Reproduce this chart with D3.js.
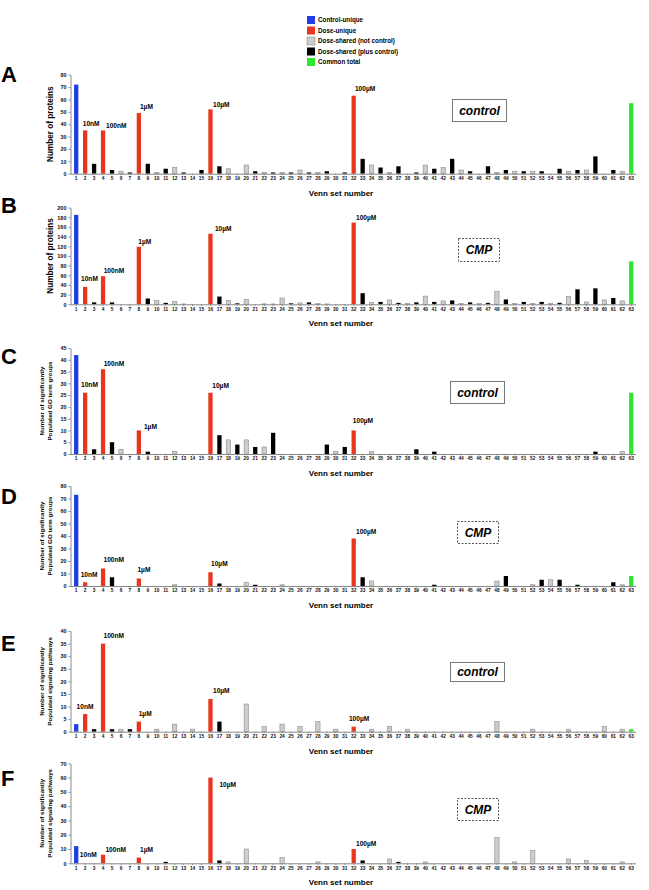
<!DOCTYPE html>
<html><head><meta charset="utf-8">
<script src="https://cdn.jsdelivr.net/npm/d3@7"></script>
<style>body{margin:0;background:#fff} svg{display:block} text{font-family:"Liberation Sans",Arial,sans-serif}</style>
</head><body><svg id="c" width="649" height="890"></svg>
<script>
// ---------------- DATA ----------------
const sets = d3.range(1, 64); // Venn set numbers 1..63
const proteinsControl = [72,35,8,35,3,2,1,49,8,1, 4,5,1,0,3,52,6,4,0,7, 2,1,1,1,1,3,1,1,2,0, 1,63,12,7,5,1,6,0,1,7, 4,5,12,3,2,0,6,1,3,2, 2,2,2,0,4,2,3,3,14,0, 3,2,57];
const proteinsCMP = [185,36,4,58,4,0,0,119,12,8, 3,6,1,0,0,146,16,8,2,10, 0,1,1,13,2,3,4,2,1,0, 0,169,23,4,5,9,3,2,4,17, 5,7,8,2,4,2,3,27,10,2, 5,2,5,2,3,16,31,5,33,9, 13,7,89];
const goControl = [42,26,2,36,5,2,0,10,1,0, 0,1,0,0,0,26,8,6,4,6, 3,3,9,0,0,0,0,0,4,1, 3,10,0,1,0,0,0,0,2,0, 1,0,0,0,0,0,0,0,0,0, 0,0,0,0,0,0,0,0,1,0, 0,1,26];
const goCMP = [73,3,0,14,7,0,0,6,0,0, 0,1,0,0,0,11,2,0,0,3, 1,0,0,1,0,0,0,0,0,0, 0,38,7,4,0,0,0,0,0,0, 1,0,0,0,0,0,0,4,8,0, 0,1,5,5,5,0,1,0,0,0, 3,1,8];
const pathControl = [3,7,1,35,1,1,1,4,0,1, 0,3,0,1,0,13,4,0,0,11, 0,2,0,3,0,2,0,4,0,1, 0,2,0,1,0,2,0,1,0,0, 0,0,0,0,0,0,0,4,0,0, 0,1,0,0,0,1,0,0,0,2, 0,1,1];
const pathCMP = [12,0,0,6,0,0,0,4,0,0, 1,0,0,0,0,60,2,1,0,10, 0,0,0,4,0,0,0,1,0,0, 0,10,2,0,0,3,1,0,0,1, 0,0,0,0,0,0,0,18,0,1, 0,9,0,0,0,3,0,2,0,0, 0,1,0];

const ticksA = [0,10,20,30,40,50,60,70,80];
const ticksB = [0,20,40,60,80,100,120,140,160,180,200];
const ticksC = [0,5,10,15,20,25,30,35,40,45];
const ticksD = [0,10,20,30,40,50,60,70,80];
const ticksE = [0,5,10,15,20,25,30,35,40];
const ticksF = [0,10,20,30,40,50,60,70];

const doseLabels = ["10nM","100nM","1\u00b5M","10\u00b5M","100\u00b5M"];
const legendLabels = ["Control-unique","Dose-unique","Dose-shared (not control)","Dose-shared (plus control)","Common total"];
const legendKeys = ["ctrl","dose","shared","sharedCtrl","common"];

// ---------------- STYLE / LAYOUT ----------------
const colors = {ctrl:"#1f3ee6", dose:"#e8361e", shared:"#cdcdcd", sharedCtrl:"#000000", common:"#2ee82e"};
function setType(n){
  if (n === 1) return "ctrl";
  if (n === 63) return "common";
  if ((n & (n-1)) === 0) return "dose";
  return (n % 2 === 1) ? "sharedCtrl" : "shared";
}
const titleGO = ["Number of significantly","Populated GO term groups"];
const titlePW = ["Number of significantly","Populated signaling pathways"];
const panels = [
  {letter:"A", values:proteinsControl, ticks:ticksA, top:74.7, base:173.7, title:["Number of proteins"], letterY:82,
   box:{t:"control", dashed:false, x:452, y:99, w:54, h:22},
   ann:[[1.73,40.7],[4.33,38.8],[8.12,54.2],[16.28,56],[32.14,68.5]]},
  {letter:"B", values:proteinsCMP, ticks:ticksB, top:207.6, base:304.3, title:["Number of proteins"], letterY:213,
   box:{t:"CMP", dashed:true, x:458, y:238, w:41, h:23},
   ann:[[1.54,54],[4.07,70],[7.93,128.7],[16.5,156.7],[32.26,179]]},
  {letter:"C", values:goControl, ticks:ticksC, top:348, base:454, title:titleGO, letterY:364,
   box:{t:"control", dashed:false, x:450, y:381, w:54, h:22},
   ann:[[1.54,29.3],[4.07,38.5],[8.57,11.6],[16.2,29],[31.9,14.1]]},
  {letter:"D", values:goCMP, ticks:ticksD, top:486, base:586, title:titleGO, letterY:504,
   box:{t:"CMP", dashed:true, x:457, y:521, w:41, h:22},
   ann:[[1.5,8.8],[4.05,20.8],[7.84,12.8],[16.06,17.6],[32.26,43.5]]},
  {letter:"E", values:pathControl, ticks:ticksE, top:631, base:731.7, title:titlePW, letterY:651,
   box:{t:"control", dashed:false, x:450, y:662, w:54, h:19},
   ann:[[1.04,10],[4.05,38],[7.98,7.3],[16.28,16.4],[31.47,5.3]]},
  {letter:"F", values:pathCMP, ticks:ticksF, top:763.3, base:863.3, title:titlePW, letterY:786,
   box:{t:"CMP", dashed:true, x:457, y:798, w:41, h:22},
   ann:[[1.41,5.8],[4.27,9.8],[8.13,9.3],[17.0,55.3],[32.26,14]]}
];

const svg = d3.select("#c");
const x = d3.scaleBand().domain(sets).range([71.72, 635.68]).paddingInner(0.52).paddingOuter(0.26);
const xc = n => x(1) + x.bandwidth()/2 + (n-1)*x.step();  // continuous position in set units
const axisX = 70.5;

panels.forEach(p => {
  const g = svg.append("g");
  const y = d3.scaleLinear().domain([0, d3.max(p.ticks)]).range([p.base, p.top]);

  // bars
  g.selectAll("rect.bar").data(sets.map((s,i)=>({s, v:p.values[i]})).filter(d=>d.v>0))
    .join("rect").attr("class","bar")
    .attr("x", d=>x(d.s)).attr("width", x.bandwidth())
    .attr("y", d=>y(d.v)).attr("height", d=>p.base - y(d.v))
    .attr("fill", d=>colors[setType(d.s)])
    .attr("stroke", d=> setType(d.s)==="shared" ? "#8c8c8c" : "none")
    .attr("stroke-width", 0.6);

  // y axis
  const ya = g.append("g").attr("transform",`translate(${axisX},0)`)
    .call(d3.axisLeft(y).tickValues(p.ticks).tickSize(2).tickSizeOuter(0).tickPadding(2));
  ya.select(".domain").attr("stroke","#888");
  ya.selectAll(".tick line").attr("stroke","#888");
  ya.selectAll("text").attr("font-size",5.5).attr("font-weight","bold").attr("fill","#111");

  // x axis
  const xa = g.append("g").attr("transform",`translate(0,${p.base})`)
    .call(d3.axisBottom(x).tickSize(1.5).tickSizeOuter(0).tickPadding(1.5));
  xa.select(".domain").remove();
  xa.selectAll(".tick line").attr("stroke","#888");
  xa.selectAll("text").attr("font-size",4.8).attr("font-weight","bold").attr("fill","#111");
  g.append("line").attr("x1",axisX).attr("x2",636).attr("y1",p.base+0.5).attr("y2",p.base+0.5)
    .attr("stroke","#888").attr("stroke-width",1);

  // x title
  g.append("text").attr("x",341).attr("y",p.base+19).attr("dy","0.35em").attr("text-anchor","middle")
    .attr("font-size",8).attr("font-weight","bold").text("Venn set number");

  // y title
  const cy = (p.top + p.base)/2;
  if (p.title.length === 1) {
    g.append("text").attr("transform",`translate(50.5,${cy}) rotate(-90)`).attr("dy","0.35em")
      .attr("text-anchor","middle").attr("font-size",8.2).attr("font-weight","bold").text(p.title[0]);
  } else {
    p.title.forEach((t,i)=>{
      g.append("text").attr("transform",`translate(${42+i*8},${cy}) rotate(-90)`).attr("dy","0.35em")
        .attr("text-anchor","middle").attr("font-size",6.2).attr("font-weight","bold").text(t);
    });
  }

  // panel letter
  g.append("text").attr("x",1).attr("y",p.letterY).attr("font-size",22).attr("font-weight","bold").text(p.letter);

  // dose annotations
  p.ann.forEach((a,i)=>{
    g.append("text").attr("x", xc(a[0])).attr("y", y(a[1])).attr("dy","0.35em")
      .attr("font-size",6.6).attr("font-weight","bold").text(doseLabels[i]);
  });

  // condition box
  const b = p.box;
  g.append("rect").attr("x",b.x+0.5).attr("y",b.y+0.5).attr("width",b.w).attr("height",b.h)
    .attr("fill","#fff").attr("stroke", b.dashed ? "#555" : "#777").attr("stroke-width",1)
    .attr("stroke-dasharray", b.dashed ? "2,1.5" : null);
  g.append("text").attr("x",b.x+0.5+b.w/2).attr("y",b.y+0.5+b.h/2).attr("dy","0.36em")
    .attr("text-anchor","middle").attr("font-size",12).attr("font-weight","bold").attr("font-style","italic")
    .text(b.t);
});

// legend
const lg = svg.append("g");
legendLabels.forEach((t,i)=>{
  const cy = 20 + i*10.5;
  const k = legendKeys[i];
  lg.append("rect").attr("x",307).attr("y",cy-4).attr("width",8).attr("height",8)
    .attr("fill",colors[k]).attr("stroke", k==="shared" ? "#8c8c8c" : "none").attr("stroke-width",0.6);
  lg.append("text").attr("x",318).attr("y",cy).attr("dy","0.35em").attr("font-size",6.3)
    .attr("font-weight","bold").text(t);
});
</script></body></html>
